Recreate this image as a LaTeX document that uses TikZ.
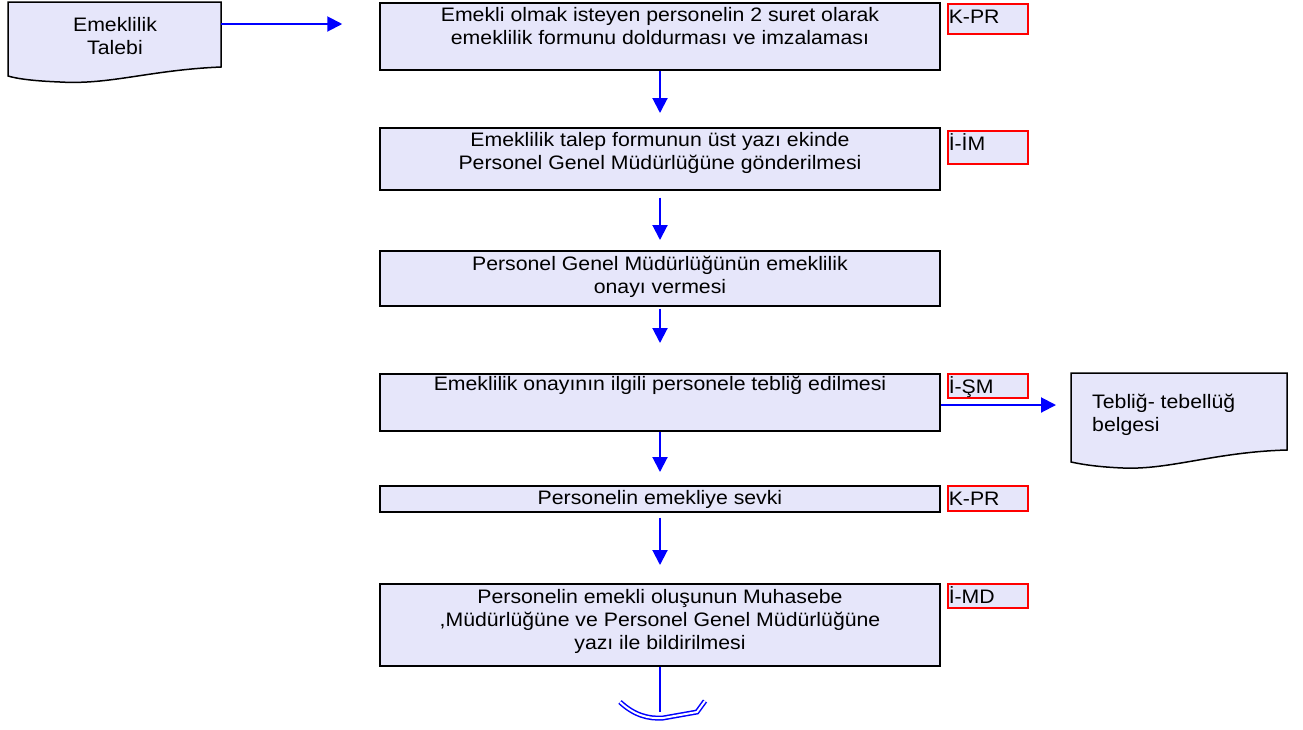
\documentclass[tikz,border=0pt]{standalone}
\usepackage{fontspec}
\setmainfont[FakeStretch=1.09]{Liberation Sans}
\usetikzlibrary{arrows.meta}
\definecolor{boxfill}{RGB}{230,230,250}
\definecolor{flowblue}{RGB}{0,0,255}
\definecolor{tagred}{RGB}{255,0,0}
\newcommand\boxtxt[3]{\parbox[c][#1][t]{560pt}{\centering\rule{0pt}{#2}#3}}
\newcommand\tagline[2]{\parbox[c][#1][t]{80pt}{\hspace*{1pt}\rule{0pt}{20pt}#2}}
\begin{document}
\begin{tikzpicture}[x=1pt,y=-1pt,
  txt/.style={font=\fontsize{19.5}{23}\selectfont},
  proc/.style={txt, draw=black, line width=1.5pt, fill=boxfill, inner sep=0pt, anchor=north},
  tagbox/.style={txt, draw=tagred, line width=1.5pt, fill=boxfill, inner sep=0pt, anchor=north west},
  docshape/.style={draw=black, line width=1.5pt, fill=boxfill},
  doctext/.style={txt, inner sep=0pt},
  flow/.style={draw=flowblue, line width=2pt, -{Triangle[length=15pt,width=15pt]}},
  plainflow/.style={draw=flowblue, line width=2pt},
  endmark/.style={draw=flowblue, line width=1.5pt, double=white, double distance=2pt}
]
\useasboundingbox (0,0) rectangle (1303,729);

% process boxes
\node[proc] (b1) at (660,2) {\boxtxt{67pt}{19pt}{Emekli olmak isteyen personelin 2 suret olarak\\emeklilik formunu doldurması ve imzalaması}};
\node[proc] (b2) at (660,127) {\boxtxt{62pt}{19pt}{Emeklilik talep formunun üst yazı ekinde\\Personel Genel Müdürlüğüne gönderilmesi}};
\node[proc] (b3) at (660,250) {\boxtxt{55pt}{20pt}{Personel Genel Müdürlüğünün emeklilik\\onayı vermesi}};
\node[proc] (b4) at (660,373) {\boxtxt{57pt}{17pt}{Emeklilik onayının ilgili personele tebliğ edilmesi}};
\node[proc] (b5) at (660,485) {\boxtxt{26pt}{19pt}{Personelin emekliye sevki}};
\node[proc] (b6) at (660,583) {\boxtxt{82pt}{20pt}{Personelin emekli oluşunun Muhasebe\\,Müdürlüğüne ve Personel Genel Müdürlüğüne\\yazı ile bildirilmesi}};

% tags
\node[tagbox] (t1) at (947,3) {\tagline{30pt}{K-PR}};
\node[tagbox] (t2) at (947,130) {\tagline{33pt}{İ-İM}};
\node[tagbox] (t4) at (947,373) {\tagline{24pt}{İ-ŞM}};
\node[tagbox] (t5) at (947,485) {\tagline{25pt}{K-PR}};
\node[tagbox] (t6) at (947,583) {\tagline{24pt}{İ-MD}};

% document shapes
\path[docshape] (8,2) -- (221,2) -- (221,67)
  .. controls (150,70) and (110,85) .. (60,82)
  .. controls (35,81) and (18,79) .. (8,76) -- cycle;
\node[doctext, align=center] (d1) at (115,36) {Emeklilik\\Talebi};

\path[docshape] (1071,373) -- (1287,373) -- (1287,450)
  .. controls (1215,452) and (1170,470) .. (1123,468)
  .. controls (1100,467) and (1085,465) .. (1071,462) -- cycle;
\node[doctext, align=left, anchor=west] (d2) at (1092,415) {Tebliğ- tebellüğ\\belgesi};
\coordinate (d2w) at (1071,405);

% connectors
\coordinate (d1e) at (221,24);
\draw[flow, shorten >=37pt] (d1e) -- (d1e -| b1.west);
\draw[flow, shorten >=14pt] (b1.south) -- (b2.north);
\draw[flow, shorten <=7pt, shorten >=10pt] (b2.south) -- (b3.north);
\draw[flow, shorten <=2pt, shorten >=30pt] (b3.south) -- (b4.north);
\draw[flow, shorten >=13pt] (b4.south) -- (b5.north);
\draw[flow, shorten <=5pt, shorten >=18pt] (b5.south) -- (b6.north);
\draw[flow, shorten >=15pt] (b4.east |- d2w) -- (d2w);

% off-page end
\coordinate (endc) at (660,712);
\draw[plainflow] (b6.south) -- (endc);
\draw[endmark]
  (620,702) .. controls (634,715) and (648,719) .. (663,718) -- (697,712) -- (705,701);
\end{tikzpicture}
\end{document}
